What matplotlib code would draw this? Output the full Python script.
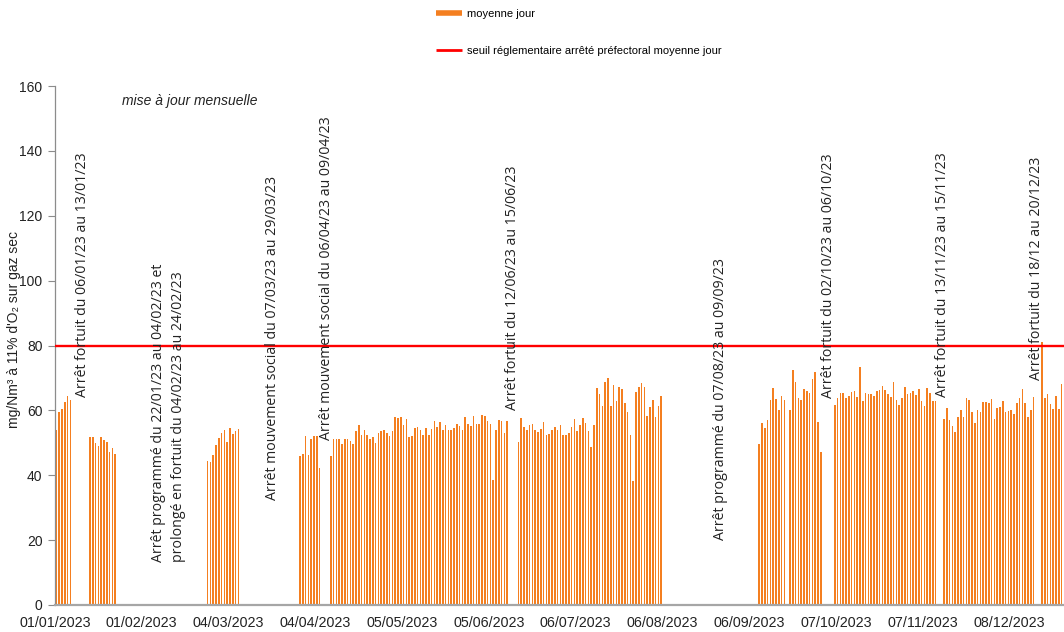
import matplotlib
matplotlib.use('Agg')
import matplotlib.pyplot as plt
import numpy as np
import pandas as pd
from matplotlib.lines import Line2D
import matplotlib.dates as mdates

plt.rcParams['font.family'] = ['Liberation Sans', 'DejaVu Sans']

# ---------------- data (daily means, mg/Nm3 at 11% O2) ----------------
jan_a_start = '2023-01-01'
jan_a = [54.1, 59.5, 60.5, 62.5, 64.3, 63.3]

jan_b_start = '2023-01-13'
jan_b = [51.8, 51.7, 50.0, 49.0, 51.8, 51.0, 50.3, 47.2, 48.3, 46.6]

mar_start = '2023-02-24'
mar = [44.4, 44.1, 46.1, 49.2, 51.4, 52.9, 53.8, 50.3, 54.5, 52.8, 53.6, 54.4]

apr_a_start = '2023-03-29'
apr_a = [45.9, 46.6, 52.0, 46.2, 51.2, 52.2, 52.2, 42.3]

apr_jun_start = '2023-04-09'
apr_jun = [45.9, 51.2, 51.2, 51.2, 49.7, 51.2, 51.2, 50.7, 49.7, 53.6,
           55.4, 52.3, 54.1, 52.4, 51.3, 51.7, 50.0, 53.1, 53.5, 54.1,
           53.1, 52.0, 53.6, 57.9, 57.7, 57.9, 55.4, 57.2, 51.7, 52.0,
           54.6, 54.8, 53.9, 52.4, 54.6, 52.5, 54.3, 56.7, 54.8, 56.5,
           54.1, 55.4, 53.9, 54.1, 54.5, 55.8, 55.1, 54.1, 58.0, 55.9,
           55.3, 58.4, 55.8, 55.8, 58.6, 58.2, 56.7, 55.8, 38.4, 54.1,
           57.0, 56.8, 53.1, 56.6]

jun_aug_start = '2023-06-15'
jun_aug = [50.2, 57.7, 54.9, 54.1, 55.4, 55.8, 53.9, 53.3, 54.4, 56.5,
           52.5, 52.6, 53.8, 54.9, 53.9, 55.4, 52.5, 52.5, 53.1, 54.8,
           57.2, 53.7, 55.4, 57.6, 56.1, 53.7, 48.8, 55.5, 66.9, 65.2,
           61.3, 68.6, 69.9, 61.5, 67.7, 63.0, 67.2, 66.7, 62.3, 59.5,
           52.5, 38.2, 65.8, 67.1, 68.4, 67.2, 58.2, 61.1, 63.3, 58.0,
           61.5, 64.3]

sep_a_start = '2023-09-09'
sep_a = [49.5, 56.1, 54.6, 57.0, 63.3, 66.8, 63.5, 60.2, 64.3, 63.3]

sep_b_start = '2023-09-20'
sep_b = [60.0, 72.4, 68.6, 63.8, 63.1, 66.7, 66.1, 65.4, 69.7, 71.7, 56.4, 47.2]

oct_nov_start = '2023-10-06'
oct_nov = [61.6, 63.8, 65.4, 65.4, 63.8, 64.5, 65.6, 65.9, 64.0, 73.3,
           62.8, 65.4, 64.9, 64.9, 64.3, 65.9, 66.2, 67.6, 66.2, 64.9,
           64.0, 68.6, 63.1, 61.8, 63.8, 67.1, 64.9, 65.4, 66.1, 64.7,
           66.6, 63.0, 61.5, 66.9, 65.4, 63.0, 62.8]

nov_dec_start = '2023-11-14'
nov_dec = [57.4, 60.8, 57.0, 55.3, 53.4, 58.0, 60.0, 58.0, 63.8, 63.3,
           59.4, 56.1, 60.0, 59.4, 62.6, 62.6, 62.3, 63.6, 57.4, 60.7,
           60.9, 62.9, 59.5, 59.9, 60.2, 58.9, 62.3, 63.7, 66.6, 62.3,
           58.0, 60.2, 64.1]

dec_start = '2023-12-19'
dec = [81.0, 63.8, 64.9, 62.1, 60.5, 64.5, 60.5, 68.2]

threshold = 80
tick_dates = pd.date_range('2023-01-01', periods=12, freq='31D')

groups = [(jan_a_start, jan_a), (jan_b_start, jan_b), (mar_start, mar),
          (apr_a_start, apr_a), (apr_jun_start, apr_jun), (jun_aug_start, jun_aug),
          (sep_a_start, sep_a), (sep_b_start, sep_b), (oct_nov_start, oct_nov),
          (nov_dec_start, nov_dec), (dec_start, dec)]

days = pd.date_range('2023-01-01', '2023-12-31', freq='D')
series = pd.Series(np.nan, index=days)
for s, vals in groups:
    idx = pd.date_range(s, periods=len(vals), freq='D')
    series.loc[idx] = vals
series = series.dropna()

# ---------------- figure ----------------
W, H = 1064, 632
fig = plt.figure(figsize=(W / 100, H / 100), dpi=100)
ax = fig.add_axes([55 / W, (H - 605) / H, 1009 / W, 519 / H])

bar_color = '#F47F20'
ax.bar(series.index + pd.Timedelta(hours=12), series.values, width=0.62,
       color=bar_color, linewidth=0, zorder=2)
ax.axhline(threshold, color='#FF0000', lw=1.7, zorder=3)

x0 = pd.Timestamp('2023-01-01')
ax.set_xlim(x0, x0 + pd.Timedelta(days=360.36))
ax.set_ylim(0, 160)
ax.set_yticks(np.arange(0, 161, 20))
ax.set_xticks(tick_dates)
ax.xaxis.set_major_formatter(mdates.DateFormatter('%d/%m/%Y'))

for sp in ['top', 'right']:
    ax.spines[sp].set_visible(False)
ax.spines['left'].set_color('#8C8C8C')
ax.spines['left'].set_linewidth(0.9)
ax.spines['bottom'].set_color('#A6A6A6')
ax.spines['bottom'].set_linewidth(1.6)
ax.tick_params(axis='y', direction='out', length=5, width=0.8, color='#8C8C8C',
               labelsize=10, pad=4, labelcolor='#222222')
ax.tick_params(axis='x', length=0, labelsize=10.3, pad=8, labelcolor='#222222')

# y label
fig.text(14 / W, 1 - 330 / H, "mg/Nm³ à 11% d'O₂ sur gaz sec", rotation=90,
         ha='center', va='center', fontsize=10, color='#222222',
         family=['Liberation Sans', 'DejaVu Sans'])

# update note
fig.text(190 / W, 1 - 101 / H, 'mise à jour mensuelle', style='italic',
         ha='center', va='center', fontsize=10, color='#222222')

# annotations
notes = [
    (83, 397, 'Arrêt fortuit du 06/01/23 au 13/01/23'),
    (158, 562, 'Arrêt programmé du 22/01/23 au 04/02/23 et'),
    (178, 562, 'prolongé en fortuit du 04/02/23 au 24/02/23'),
    (272, 500, 'Arrêt mouvement social du 07/03/23 au 29/03/23'),
    (327, 440, 'Arrêt mouvement social du 06/04/23 au 09/04/23'),
    (513, 410, 'Arrêt fortuit du 12/06/23 au 15/06/23'),
    (721, 540, 'Arrêt programmé du 07/08/23 au 09/09/23'),
    (829, 398, 'Arrêt fortuit du 02/10/23 au 06/10/23'),
    (942, 397, 'Arrêt fortuit du 13/11/23 au 15/11/23'),
    (1037, 380, 'Arrêt fortuit du 18/12 au 20/12/23'),
]
for x, yb, t in notes:
    fig.text(x / W, 1 - yb / H, t, rotation=90, ha='center', va='bottom',
             fontsize=10.2, family=['Open Sans', 'DejaVu Sans'], color='#222222')

# legend
handles = [Line2D([], [], color=bar_color, lw=4, solid_capstyle='butt'),
           Line2D([], [], color='#FF0000', lw=2, solid_capstyle='butt')]
fig.legend(handles, ['moyenne jour',
                     'seuil réglementaire arrêté préfectoral moyenne jour'],
           loc='upper left', bbox_to_anchor=(436 / W, 1 - 9 / H),
           frameon=False, fontsize=8, handlelength=2.35, handletextpad=0.4,
           labelspacing=2.45, borderpad=0, borderaxespad=0)

fig.savefig('out.png', dpi=100)
